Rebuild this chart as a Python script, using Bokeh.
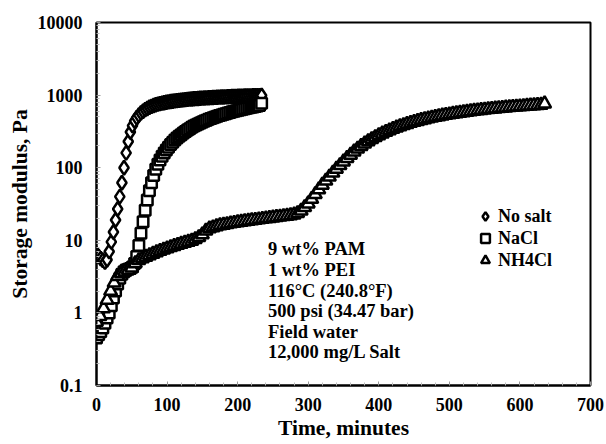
from bokeh.plotting import figure
from bokeh.models import (Range1d, FixedTicker, CustomJSTickFormatter, Legend, LegendItem, Label)
from bokeh.embed import file_html
from bokeh.resources import INLINE

# ---------------- data ----------------
no_salt_t = [0, 3, 6, 9, 12, 15, 18, 21, 24, 27,
             30, 33, 36, 39, 42, 45, 48, 51, 54, 57,
             60, 63, 66, 69, 72, 75, 78, 81, 84, 87,
             90, 93, 96, 99, 102, 105, 108, 111, 114, 117,
             120, 123, 126, 129, 132, 135, 138, 141, 144, 147,
             150, 153, 156, 159, 162, 165, 168, 171, 174, 177,
             180, 183, 186, 189, 192, 195, 198, 201, 204, 207,
             210, 213, 216, 219, 222, 225, 228, 231, 234]
no_salt_g = [6.5, 6.0, 5.6, 5.3, 5.0, 5.4, 7.0, 9.5, 13, 19,
             27, 40, 62, 100, 160, 230, 310, 380, 440, 490,
             530, 570, 600, 630, 655, 680, 700, 718, 735, 750,
             763, 775, 786, 796, 806, 815, 824, 832, 840, 847,
             854, 861, 867, 873, 879, 884, 889, 894, 899, 904,
             908, 912, 916, 920, 924, 928, 931, 934, 937, 940,
             943, 946, 949, 952, 955, 958, 960, 963, 965, 968,
             970, 972, 974, 976, 978, 980, 982, 984, 986]

nacl_t = [0, 3, 6, 9, 12, 15, 18, 21, 24, 27,
          30, 33, 36, 39, 42, 45, 48, 51, 54, 57,
          60, 63, 66, 69, 72, 75, 78, 81, 84, 87,
          90, 93, 96, 99, 102, 105, 108, 111, 114, 117,
          120, 123, 126, 129, 132, 135, 138, 141, 144, 147,
          150, 153, 156, 159, 162, 165, 168, 171, 174, 177,
          180, 183, 186, 189, 192, 195, 198, 201, 204, 207,
          210, 213, 216, 219, 222, 225, 228, 231, 234]
nacl_g = [0.45, 0.5, 0.55, 0.62, 0.72, 0.85, 1.0, 1.25, 1.6, 2.0,
          2.5, 3.0, 3.4, 3.7, 3.9, 4.0, 4.1, 4.3, 4.8, 6.0,
          8.5, 12.5, 18, 26, 36, 48, 62, 78, 95, 112,
          128, 144, 160, 176, 192, 208, 224, 240, 256, 271,
          285, 300, 315, 330, 345, 360, 374, 388, 401, 414,
          427, 440, 452, 464, 476, 488, 500, 511, 522, 533,
          544, 555, 566, 577, 588, 598, 608, 618, 628, 638,
          648, 658, 668, 678, 688, 698, 708, 718, 770]

nh4cl_t = [0, 5, 10, 15, 20, 25, 30, 35, 40, 45,
           50, 55, 60, 65, 70, 75, 80, 85, 90, 95,
           100, 105, 110, 115, 120, 125, 130, 135, 140, 145,
           150, 155, 160, 165, 170, 175, 180, 185, 190, 195,
           200, 205, 210, 215, 220, 225, 230, 235, 240, 245,
           250, 255, 260, 265, 270, 275, 280, 285, 290, 295,
           300, 305, 310, 315, 320, 325, 330, 335, 340, 345,
           350, 355, 360, 365, 370, 375, 380, 385, 390, 395,
           400, 405, 410, 415, 420, 425, 430, 435, 440, 445,
           450, 455, 460, 465, 470, 475, 480, 485, 490, 495,
           500, 505, 510, 515, 520, 525, 530, 535, 540, 545,
           550, 555, 560, 565, 570, 575, 580, 585, 590, 595,
           600, 605, 610, 615, 620, 625, 630, 635]
nh4cl_g = [0.75, 0.9, 1.15, 1.5, 2.0, 2.6, 3.2, 3.5, 3.7, 3.9,
           4.2, 4.8, 5.3, 5.6, 5.9, 6.2, 6.5, 6.8, 7.1, 7.4,
           7.7, 8.0, 8.3, 8.6, 8.9, 9.2, 9.5, 9.8, 10.3, 11,
           12, 13.5, 14.5, 15, 15.5, 16, 16.3, 16.6, 17, 17.3,
           17.6, 17.9, 18.2, 18.5, 18.8, 19, 19.3, 19.6, 19.9, 20.2,
           20.5, 20.8, 21.1, 21.4, 21.7, 22, 22.5, 23.5, 25.5, 28.5,
           32, 37, 43, 50, 58, 66, 75, 85, 96, 108,
           121, 135, 150, 166, 182, 198, 214, 230, 246, 262,
           278, 294, 310, 325, 340, 355, 370, 384, 398, 412,
           425, 438, 451, 463, 475, 487, 498, 509, 520, 530,
           540, 550, 560, 569, 578, 587, 596, 604, 612, 620,
           628, 636, 643, 650, 657, 664, 671, 678, 684, 690,
           696, 702, 708, 714, 720, 726, 732, 760]

series_labels = ["No salt", "NaCl", "NH4Cl"]
x_ticks = [0, 100, 200, 300, 400, 500, 600, 700]
y_ticks = [0.1, 1, 10, 100, 1000, 10000]
note_lines = ["9 wt% PAM", "1 wt% PEI", "116\u00b0C (240.8\u00b0F)",
              "500 psi (34.47 bar)", "Field water", "12,000 mg/L Salt"]
x_title = "Time, minutes"
y_title = "Storage modulus, Pa"

FONT = "Liberation Serif"

p = figure(width=606, height=444, output_backend="svg", toolbar_location=None,
           y_axis_type="log", x_range=Range1d(0, 700), y_range=Range1d(0.1, 10000),
           min_border_left=96, min_border_right=16, min_border_top=22, min_border_bottom=59)
p.background_fill_color = "white"
p.border_fill_color = "white"
p.outline_line_color = "black"
p.outline_line_width = 2
p.xgrid.visible = False
p.ygrid.visible = False

x_minor = [v for v in range(0, 701, 20) if v % 100]
y_minor = [m * 10.0 ** e for e in range(-1, 4) for m in range(2, 10)]
p.xaxis.ticker = FixedTicker(ticks=x_ticks, minor_ticks=x_minor)
p.yaxis.ticker = FixedTicker(ticks=y_ticks, minor_ticks=y_minor)
p.yaxis.formatter = CustomJSTickFormatter(code="return tick < 1 ? tick.toFixed(1) : tick.toFixed(0);")

for ax in (p.xaxis, p.yaxis):
    ax.axis_line_color = "black"
    ax.axis_line_width = 2
    ax.major_tick_in = 4
    ax.major_tick_out = 0
    ax.minor_tick_in = 3
    ax.minor_tick_out = 0
    ax.major_tick_line_color = "#999999"
    ax.minor_tick_line_color = "#bbbbbb"
    ax.major_label_text_font = FONT
    ax.major_label_text_font_style = "bold"
    ax.major_label_text_font_size = "18px"
    ax.major_label_text_color = "black"
    ax.axis_label_text_font = FONT
    ax.axis_label_text_font_style = "bold"
    ax.axis_label_text_font_size = "21.5px"
    ax.axis_label_text_color = "black"

p.xaxis.axis_label = x_title
p.yaxis.axis_label = y_title
p.xaxis.major_label_standoff = 12
p.xaxis.axis_label_standoff = 2
p.yaxis.major_label_standoff = 14
p.yaxis.axis_label_standoff = 3

r1 = p.scatter(no_salt_t, no_salt_g, marker="diamond", size=14,
               line_color="black", line_width=2.5, fill_color="white")
r2 = p.scatter(nacl_t, nacl_g, marker="square", size=10.5,
               line_color="black", line_width=2.5, fill_color="white")
r3 = p.scatter(nh4cl_t, nh4cl_g, marker="triangle", size=13,
               line_color="black", line_width=2.5, fill_color="white")

legend = Legend(items=[LegendItem(label=series_labels[0], renderers=[r1]),
                       LegendItem(label=series_labels[1], renderers=[r2]),
                       LegendItem(label=series_labels[2], renderers=[r3])],
                location=(378, 114), orientation="vertical",
                border_line_alpha=0, background_fill_alpha=0,
                padding=0, margin=0, spacing=0,
                label_height=22, glyph_height=22, glyph_width=22, label_standoff=2,
                label_text_font=FONT, label_text_font_style="bold",
                label_text_font_size="18px", label_text_color="black",
                label_text_line_height=0.9)
p.add_layout(legend)

note = Label(x=243, y=10.3, text="\n".join(note_lines), text_baseline="top",
             text_font=FONT, text_font_style="bold", text_font_size="18.5px",
             text_color="black", text_line_height=1.03)
p.add_layout(note)

open("out.html", "w").write(file_html(p, INLINE))
